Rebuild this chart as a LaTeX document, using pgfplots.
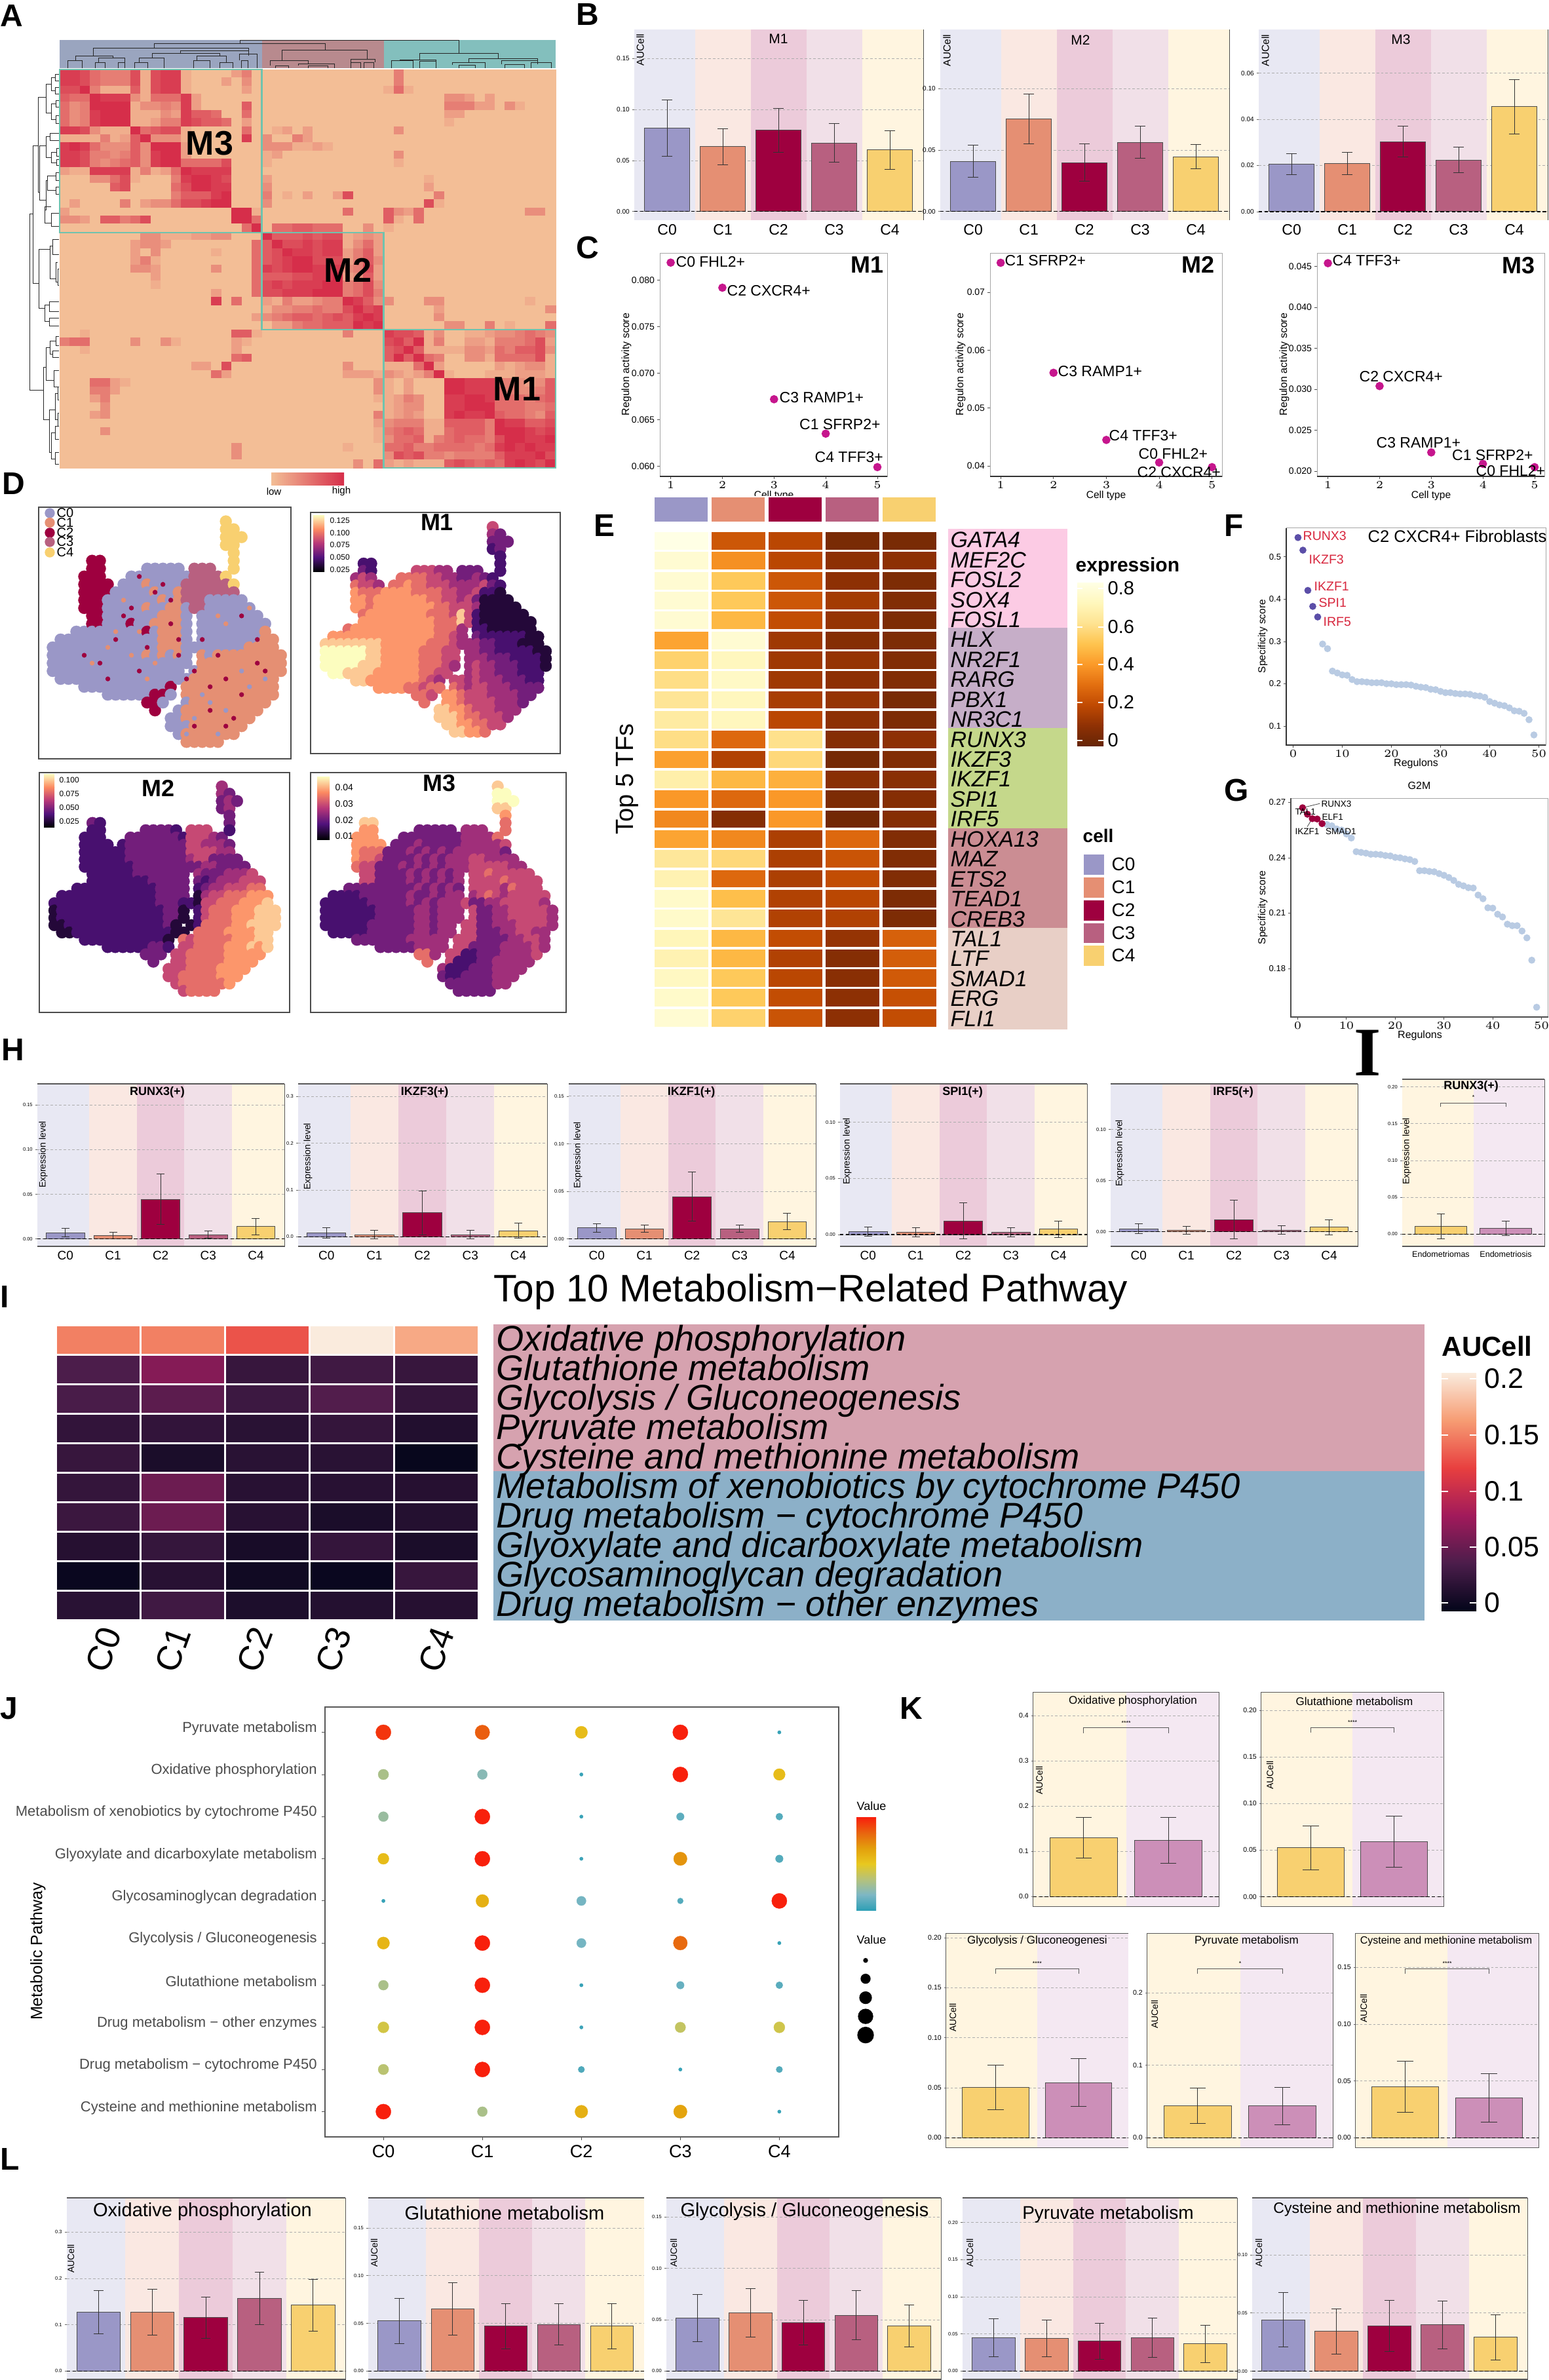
\documentclass[border=0pt]{standalone}
\usepackage{fontspec}
\setmainfont{Liberation Sans}
\newfontfamily\serifb{Liberation Serif}
\usepackage{pgfplots}
\usepackage{pgfplotstable}
\pgfplotsset{compat=1.18}
\definecolor{c0}{HTML}{9A97C7}\definecolor{c1}{HTML}{E58F73}\definecolor{c2}{HTML}{9E003F}
\definecolor{c3}{HTML}{B86080}\definecolor{c4}{HTML}{F8D070}\definecolor{k2}{HTML}{CC8FB8}
\definecolor{b0}{HTML}{E8E8F3}\definecolor{b1}{HTML}{FAE8E2}\definecolor{b2}{HTML}{ECCBDA}
\definecolor{b3}{HTML}{F1E0E8}\definecolor{b4}{HTML}{FFF5E0}\definecolor{b5}{HTML}{F4E8F2}
\definecolor{hlo}{HTML}{F3BE96}\definecolor{hhi}{HTML}{D62E4A}
\definecolor{yb0}{HTML}{662506}\definecolor{yb1}{HTML}{8F3104}\definecolor{yb2}{HTML}{C04A02}
\definecolor{yb3}{HTML}{E36F10}\definecolor{yb4}{HTML}{FB9A29}\definecolor{yb5}{HTML}{FEC44F}
\definecolor{yb6}{HTML}{FEE391}\definecolor{yb7}{HTML}{FFF7BC}\definecolor{yb8}{HTML}{FFFFE5}
\definecolor{rk0}{HTML}{03051A}\definecolor{rk1}{HTML}{4C1D4B}\definecolor{rk2}{HTML}{A11A5B}
\definecolor{rk3}{HTML}{E83F3F}\definecolor{rk4}{HTML}{F69C73}\definecolor{rk5}{HTML}{FAEBDD}
\definecolor{mg0}{HTML}{000004}\definecolor{mg1}{HTML}{51127C}\definecolor{mg2}{HTML}{B73779}
\definecolor{mg3}{HTML}{FC8961}\definecolor{mg4}{HTML}{FCFDBF}
\definecolor{jt0}{HTML}{2E9FB5}\definecolor{jt1}{HTML}{7DB7C4}\definecolor{jt2}{HTML}{B5C27A}
\definecolor{jt3}{HTML}{E8C81F}\definecolor{jt4}{HTML}{E3A00C}\definecolor{jt5}{HTML}{E8650F}\definecolor{jt6}{HTML}{F8200C}
\definecolor{tl}{HTML}{6FC3AE}
\pgfplotsset{
 colormap={hA}{color=(hlo) color=(hhi)},
 colormap={ylo}{color=(yb0) color=(yb1) color=(yb2) color=(yb3) color=(yb4) color=(yb5) color=(yb6) color=(yb7) color=(yb8)},
 colormap={rock}{color=(rk0) color=(rk1) color=(rk2) color=(rk3) color=(rk4) color=(rk5)},
 colormap={mag}{color=(mg0) color=(mg1) color=(mg2) color=(mg3) color=(mg4)},
 colormap={jet2}{color=(jt0) color=(jt1) color=(jt2) color=(jt3) color=(jt4) color=(jt5) color=(jt6)},
 colormap={cat}{color=(c0) color=(c1) color=(c2) color=(c3) color=(c4)},
 pan/.style n args={4}{scale only axis,anchor=north west,at={({#1*0.3pt},{-#2*0.3pt})},width={(#3-#1)*0.3pt},height={(#4-#2)*0.3pt}},
}
\newcommand\fz[1]{\pgfmathsetmacro\fzv{#1*0.3}\fontsize{\fzv pt}{\fzv pt}\selectfont}

% similarity matrix of panel A, 49 regulons (M3 | M2 | M1)
\pgfplotstableread[header=false]{
8 8 7 5 4 4 4 7 1 7 8 8 1 0 0 0 0 2 4 0  0 0 0 0 0 0 0 0 0 0 0 0  0 4 0 0 0 0 0 0 0 0 0 0 0 0 0 0 0
8 8 7 5 4 4 4 7 1 7 8 8 1 0 0 0 2 0 3 0  0 0 0 0 0 0 0 0 0 0 0 0  0 4 0 0 0 0 0 0 0 0 0 0 0 0 0 0 0
7 7 9 4 1 1 1 6 1 7 8 8 1 0 0 0 0 0 2 0  0 0 0 0 0 0 0 0 0 0 0 0  1 5 1 0 0 0 0 0 0 0 0 0 0 0 0 0 0
6 5 5 9 8 8 8 3 1 5 5 5 8 2 0 0 0 0 0 0  0 0 0 0 0 0 0 0 0 0 0 0  0 0 0 0 0 0 3 3 2 0 2 0 0 0 0 0 0
5 3 4 9 9 9 9 1 3 3 4 3 8 2 0 0 0 0 6 0  0 0 0 0 0 0 0 0 0 0 0 0  0 0 0 0 0 0 4 4 4 2 2 0 3 1 0 0 0
5 3 4 8 9 9 9 1 1 1 3 2 8 6 6 5 0 0 5 0  0 0 0 0 0 0 0 0 0 0 0 0  0 0 0 0 0 0 2 2 0 0 0 0 0 0 0 0 0
5 3 4 8 9 9 9 1 1 2 4 4 8 7 6 6 5 0 2 0  0 0 0 0 0 0 0 0 0 0 0 0  0 0 0 0 0 0 1 0 0 0 0 0 0 0 0 0 0
8 8 7 3 1 1 1 9 5 6 7 7 1 0 0 0 0 0 5 0  0 1 2 0 2 0 0 0 0 0 0 0  0 3 0 0 0 0 0 0 0 0 0 0 0 0 0 0 0
1 1 1 1 4 1 2 6 9 3 3 3 1 0 0 0 0 0 8 0  3 0 0 4 2 0 0 0 0 0 0 0  0 0 0 0 0 0 0 0 0 0 0 0 0 0 0 0 0
8 9 8 5 3 3 3 6 3 9 9 9 2 0 0 0 0 0 0 0  3 3 3 1 1 2 1 0 0 0 0 0  0 0 0 0 0 0 0 0 0 0 0 0 0 0 0 0 0
8 8 7 4 4 3 4 6 3 8 9 9 2 0 0 0 0 0 0 0  1 2 0 0 0 0 0 0 0 0 0 0  0 3 0 0 0 0 0 0 0 0 0 0 0 0 0 0 0
8 8 7 4 3 4 5 6 3 8 9 9 5 5 5 5 7 0 0 0  1 0 0 0 0 0 0 0 0 0 0 0  0 1 0 0 0 0 0 0 0 0 0 0 0 0 0 0 0
2 1 1 8 8 8 8 1 4 1 2 5 9 8 8 8 8 0 0 0  0 0 0 0 0 0 0 0 0 0 0 0  0 0 0 0 0 0 0 0 0 0 0 0 0 0 0 0 0
0 0 0 3 3 5 7 1 0 0 0 4 8 9 9 8 7 0 0 0  2 0 0 0 0 0 0 0 0 0 0 0  0 0 0 0 1 0 0 0 0 0 0 0 0 0 0 0 0
0 0 0 0 0 6 7 0 0 0 0 5 7 9 9 8 8 0 0 0  3 0 0 0 0 0 0 0 0 0 0 0  0 0 0 0 2 0 0 0 0 0 0 0 0 0 0 0 0
0 0 0 0 0 0 0 0 0 0 0 4 6 6 6 8 9 0 0 0  4 0 1 0 2 0 0 2 7 0 0 0  0 0 0 0 0 4 0 0 0 0 0 0 0 0 0 0 0
0 2 0 0 0 0 4 0 2 3 3 5 7 7 8 9 9 0 0 0  3 0 0 0 0 0 0 0 0 0 0 0  0 0 0 0 7 1 0 0 0 0 0 0 0 0 0 0 0
2 0 0 0 0 0 0 0 0 0 0 0 0 0 0 0 0 9 9 1  0 0 0 0 0 0 0 0 5 0 0 0  6 3 2 5 0 0 0 0 0 0 0 0 0 0 3 3 0
3 3 2 0 6 6 4 5 7 0 0 0 0 0 0 0 0 9 9 5  0 0 0 0 0 0 0 0 0 0 0 0  6 1 0 5 0 0 0 0 0 0 0 0 0 0 0 0 0
0 0 0 0 0 0 0 0 0 0 0 0 0 0 0 0 0 0 5 9  0 5 5 6 6 5 5 5 0 0 3 0  1 0 0 0 0 0 0 0 0 0 0 0 0 0 0 0 0
0 0 0 0 0 0 0 0 3 3 1 1 1 2 2 3 3 0 0 0  9 6 6 6 7 6 7 7 1 2 3 2  0 0 0 0 0 0 0 0 0 0 0 0 0 0 0 0 0
0 0 0 0 0 0 0 2 3 3 2 0 0 0 0 0 0 0 0 5  6 9 7 7 8 7 8 8 1 3 5 2  0 0 0 0 0 0 0 0 0 0 0 0 0 0 0 0 0
0 0 0 0 0 0 0 2 0 3 0 0 0 0 0 1 0 0 0 5  6 7 9 8 8 7 8 8 2 4 6 2  0 0 0 0 0 0 0 0 0 0 0 0 0 0 0 0 0
0 0 0 0 0 0 0 2 4 1 0 0 0 0 0 0 0 0 0 5  6 7 8 9 9 7 7 7 2 4 6 3  0 0 0 0 0 0 0 0 0 0 0 0 0 0 0 0 0
0 0 0 0 0 0 0 3 3 2 0 0 0 0 0 3 0 0 0 5  8 7 8 9 9 8 8 8 3 4 7 2  0 0 0 0 0 0 0 0 0 0 0 0 0 0 0 0 0
0 0 0 0 0 0 0 0 0 2 0 0 0 0 0 0 0 0 0 5  6 6 6 7 7 8 8 9 2 3 6 2  0 0 0 0 0 0 0 0 0 0 0 0 0 0 0 0 0
0 0 0 0 0 0 0 0 0 1 0 0 0 0 0 0 0 0 0 5  7 8 7 8 8 8 9 9 4 5 7 3  0 0 0 0 0 0 0 0 0 0 0 0 0 0 0 0 0
0 0 0 0 0 0 0 0 0 0 0 0 0 0 0 2 0 0 0 5  7 7 8 8 8 9 9 9 4 5 7 4  0 0 0 0 0 0 0 0 0 0 0 0 0 0 0 0 0
0 0 0 0 0 0 0 0 0 0 0 0 0 0 0 8 0 5 0 0  2 1 4 2 2 3 4 4 9 8 6 3  3 0 0 0 3 3 0 0 0 0 0 0 0 0 1 0 0
0 0 0 0 0 0 0 0 0 0 0 0 0 0 0 0 0 0 0 0  1 3 3 4 4 5 4 4 7 9 7 8  0 0 0 0 0 2 0 0 0 0 0 0 0 0 0 0 3
0 0 0 0 0 0 0 0 0 0 0 0 0 0 0 0 0 0 0 2  3 4 5 6 6 5 6 7 6 8 9 8  0 0 0 0 0 3 0 0 0 0 0 0 0 0 0 0 0
0 0 0 0 0 0 0 0 0 0 0 0 0 0 0 0 0 0 0 0  0 2 2 4 5 5 6 6 6 9 8 9  0 0 0 0 0 0 3 3 0 0 4 0 1 0 0 0 5
0 0 1 0 0 0 0 0 0 0 0 0 0 0 0 0 0 6 6 1  0 0 0 0 0 0 0 0 4 0 0 0  8 7 7 6 1 3 0 0 1 1 2 3 3 4 5 4 3
4 5 5 0 0 0 0 3 0 0 3 1 0 0 0 0 0 2 1 0  0 0 0 0 0 0 0 0 0 0 0 0  7 8 6 9 1 4 0 0 2 2 1 4 4 4 5 7 2
0 0 1 0 0 0 0 0 0 0 0 0 0 0 0 0 0 2 0 0  0 0 0 0 0 0 0 0 0 0 0 0  6 7 9 6 1 1 1 1 3 3 2 5 4 6 6 7 3
0 0 0 0 0 0 0 0 0 0 0 0 0 0 0 0 0 5 6 0  0 0 0 0 0 0 0 0 0 0 0 0  6 9 6 9 5 4 0 0 3 3 1 5 5 5 5 7 1
0 0 0 0 0 0 0 0 0 0 0 0 0 2 2 0 7 0 0 0  0 0 0 0 0 0 0 0 3 0 0 0  1 1 1 5 9 2 0 0 0 0 0 2 1 2 3 3 1
0 0 0 0 0 0 0 0 0 0 0 0 0 0 0 5 2 0 0 0  0 0 0 0 0 0 0 0 2 2 2 1  3 2 1 2 4 9 1 0 0 0 1 1 1 2 2 2 1
0 0 0 5 5 2 1 0 0 0 0 0 0 0 0 0 0 0 0 0  0 0 0 0 0 0 0 0 0 0 0 3  1 0 2 0 0 0 9 9 8 8 8 4 4 3 2 3 6
0 0 0 4 4 2 0 0 0 0 0 0 0 0 0 0 0 0 0 0  0 0 0 0 0 0 0 0 0 0 0 3  1 0 2 0 0 0 9 9 8 8 8 5 4 3 3 4 6
0 0 0 2 4 0 0 0 0 0 0 0 0 0 0 0 0 0 0 0  0 0 0 0 0 0 0 0 0 0 0 1  1 2 4 3 0 0 8 8 9 9 8 5 5 5 4 5 6
0 0 0 0 3 0 0 0 0 0 0 0 0 0 0 0 0 0 0 0  0 0 0 0 0 0 0 0 0 0 0 0  1 2 3 3 0 0 8 8 9 9 9 5 5 5 4 4 5
0 0 0 2 3 0 0 0 0 0 0 0 0 0 0 0 0 0 0 0  0 0 0 0 0 0 0 0 0 0 0 4  1 2 3 2 0 0 8 9 8 8 9 6 5 5 4 3 6
0 0 0 0 0 0 0 0 0 0 0 0 0 0 0 0 0 0 0 0  0 0 0 0 0 0 0 0 0 0 0 2  3 4 4 4 1 1 6 6 6 6 4 9 8 8 6 6 7
0 0 0 0 3 0 0 0 0 0 0 0 0 0 0 0 0 0 0 0  0 0 0 0 0 0 0 0 0 0 0 1  4 5 6 5 1 1 5 6 6 6 4 9 9 9 8 7 8
0 0 0 0 0 0 0 0 0 0 0 0 0 0 0 0 0 0 0 0  0 0 0 0 0 0 0 0 0 0 0 1  3 5 5 6 1 4 5 6 5 5 4 7 9 9 8 8 9
0 0 0 0 0 0 0 0 0 0 0 0 0 0 0 0 0 3 0 0  0 0 0 0 0 0 0 0 1 0 0 0  5 5 6 4 4 5 5 5 5 4 5 8 9 8 9 8 8
0 0 0 0 0 0 0 0 0 0 0 0 0 0 0 0 0 3 0 0  0 0 0 0 0 0 0 0 0 0 0 0  3 7 6 7 4 4 3 4 4 4 4 6 8 8 8 9 7
0 0 0 0 0 0 0 0 0 0 0 0 0 0 0 0 0 0 0 0  0 0 0 0 0 0 0 0 0 3 0 5  2 1 2 1 1 1 6 7 6 5 6 5 8 9 8 7 9
}\tabA

% TF expression, panel E
\pgfplotstableread[header=false]{
.85 .25 .20 .05 .05
.80 .40 .20 .10 .10
.80 .55 .25 .10 .06
.80 .55 .25 .15 .07
.80 .50 .22 .12 .06
.45 .80 .14 .08 .06
.58 .75 .14 .12 .07
.62 .77 .14 .10 .07
.65 .75 .16 .12 .05
.68 .75 .20 .10 .06
.62 .30 .63 .08 .10
.44 .18 .60 .04 .07
.70 .50 .48 .09 .09
.42 .30 .42 .06 .08
.38 .08 .42 .03 .08
.45 .38 .17 .30 .07
.66 .60 .17 .24 .07
.72 .30 .17 .22 .07
.78 .52 .18 .20 .06
.78 .65 .18 .18 .06
.74 .50 .22 .12 .28
.72 .50 .18 .08 .27
.76 .55 .20 .09 .26
.78 .55 .22 .10 .23
.80 .58 .24 .10 .22
}\tabE

% metabolism AUCell, panel I
\pgfplotstableread[header=false]{
.155 .155 .135 .21 .175
.042 .070 .030 .035 .030
.040 .050 .033 .045 .028
.027 .027 .022 .028 .018
.030 .014 .022 .022 .003
.028 .058 .021 .021 .020
.032 .058 .021 .014 .019
.020 .029 .012 .028 .014
.004 .021 .008 .004 .030
.022 .035 .015 .019 .020
}\tabI

% UMAPs of panel D on a coarse grid, 0 = no cells
\pgfplotstableread[header=false]{
0 0 0 0 0 0 0 0 0 0 0 0 0 0 0 0 0 0 0 0 0 0 5 0 0 0 0 0 0 0
0 0 0 0 0 0 0 0 0 0 0 0 0 0 0 0 0 0 0 0 0 0 5 5 0 0 0 0 0 0
0 0 0 0 0 0 0 0 0 0 0 0 0 0 0 0 0 0 0 0 0 0 5 5 5 0 0 0 0 0
0 0 0 0 0 0 0 0 0 0 0 0 0 0 0 0 0 0 0 0 0 0 5 5 0 0 0 0 0 0
0 0 0 0 0 0 0 0 0 0 0 0 0 0 0 0 0 0 0 0 0 0 0 5 0 0 0 0 0 0
0 0 0 0 0 3 3 0 0 0 0 0 0 0 0 0 0 0 0 0 0 0 0 5 0 0 0 0 0 0
0 0 0 0 0 3 3 0 0 0 0 0 1 1 1 1 1 0 4 4 4 0 0 5 0 0 0 0 0 0
0 0 0 0 3 3 3 0 0 0 1 1 1 1 1 1 1 1 4 4 4 4 5 0 0 0 0 0 0 0
0 0 0 0 3 3 3 3 0 1 1 1 2 1 1 1 1 4 4 4 4 4 4 5 0 0 0 0 0 0
0 0 0 0 3 3 3 3 1 1 1 1 1 2 1 1 2 4 4 4 4 4 4 4 0 0 0 0 0 0
0 0 0 0 3 3 3 1 1 1 1 1 1 1 2 1 2 4 4 4 1 1 1 1 1 0 0 0 0 0
0 0 0 0 3 3 3 1 1 1 1 1 2 1 1 2 2 1 4 4 1 1 1 1 1 1 0 0 0 0
0 0 0 0 0 3 3 1 1 1 1 1 1 1 2 2 2 1 0 1 1 1 1 1 1 1 1 0 0 0
0 0 0 0 0 3 3 1 1 1 3 1 1 2 2 2 2 1 0 1 1 1 1 1 1 1 1 1 0 0
0 0 0 1 1 1 1 1 1 1 1 1 3 1 2 2 2 1 0 1 1 1 1 1 1 1 1 2 0 0
0 1 1 1 1 1 1 1 1 1 1 1 1 1 2 2 2 1 0 1 1 1 1 1 1 1 1 2 2 0
1 1 1 1 1 1 1 1 1 1 1 1 1 1 2 2 2 1 1 1 1 1 1 1 1 2 2 2 2 0
1 1 1 1 1 1 1 1 1 1 1 1 2 1 2 1 2 1 0 2 1 2 2 2 2 2 2 2 2 2
1 1 1 1 1 1 1 1 1 1 1 1 1 1 1 1 1 1 0 2 2 2 2 2 2 2 2 2 2 2
1 1 1 1 1 1 1 1 1 1 1 1 1 1 1 1 1 0 1 2 2 2 2 2 2 2 2 2 2 2
0 1 1 1 1 1 1 1 1 1 1 1 1 1 1 1 1 1 2 2 2 2 2 2 2 2 2 2 2 0
0 0 0 0 1 1 1 1 1 1 1 1 1 1 1 3 0 2 2 2 2 2 2 2 2 2 2 2 2 0
0 0 0 0 0 0 0 1 1 1 1 1 1 3 3 1 0 2 2 2 2 2 2 2 2 2 2 2 2 0
0 0 0 0 0 0 0 0 0 0 0 0 3 3 1 0 0 1 2 2 2 2 2 2 2 2 2 2 0 0
0 0 0 0 0 0 0 0 0 0 0 0 0 3 0 0 1 2 2 2 2 2 2 2 2 2 2 0 0 0
0 0 0 0 0 0 0 0 0 0 0 0 0 0 0 1 1 2 2 2 2 2 2 2 2 2 0 0 0 0
0 0 0 0 0 0 0 0 0 0 0 0 0 0 0 1 1 1 2 2 2 2 2 2 2 0 0 0 0 0
0 0 0 0 0 0 0 0 0 0 0 0 0 0 0 0 1 2 2 2 2 2 2 2 0 0 0 0 0 0
0 0 0 0 0 0 0 0 0 0 0 0 0 0 0 0 0 2 2 2 2 2 0 0 0 0 0 0 0 0
}\tabDa
\pgfplotstableread[header=false]{
0 0 0 0 0 0 0 0 0 0 0 0 0 0 0 0 0 0 0 0 0 0 5 0 0 0 0 0 0 0
0 0 0 0 0 0 0 0 0 0 0 0 0 0 0 0 0 0 0 0 0 0 4 3 0 0 0 0 0 0
0 0 0 0 0 0 0 0 0 0 0 0 0 0 0 0 0 0 0 0 0 0 3 3 3 0 0 0 0 0
0 0 0 0 0 0 0 0 0 0 0 0 0 0 0 0 0 0 0 0 0 0 2 3 0 0 0 0 0 0
0 0 0 0 0 0 0 0 0 0 0 0 0 0 0 0 0 0 0 0 0 0 0 2 0 0 0 0 0 0
0 0 0 0 0 2 2 0 0 0 0 0 0 0 0 0 0 0 0 0 0 0 0 2 0 0 0 0 0 0
0 0 0 0 0 3 2 0 0 0 0 0 5 5 5 4 4 0 3 3 3 0 0 2 0 0 0 0 0 0
0 0 0 0 4 5 4 0 0 0 6 6 6 6 5 5 4 4 3 3 4 3 2 0 0 0 0 0 0 0
0 0 0 0 6 5 5 4 0 6 6 7 6 6 5 5 5 4 4 4 4 5 3 2 0 0 0 0 0 0
0 0 0 0 7 6 6 6 7 7 7 7 6 6 6 6 5 5 4 4 5 2 2 1 0 0 0 0 0 0
0 0 0 0 7 7 6 7 7 7 7 7 7 7 6 6 5 5 4 5 3 1 1 1 1 0 0 0 0 0
0 0 0 0 7 7 6 7 7 7 7 7 7 7 7 6 6 5 5 5 4 1 1 1 1 1 0 0 0 0
0 0 0 0 0 6 7 7 7 7 7 7 7 7 6 6 6 5 8 5 2 1 1 1 1 1 1 0 0 0
0 0 0 0 0 7 7 7 7 7 7 7 7 7 7 6 6 6 8 5 2 1 1 1 1 1 1 1 0 0
0 0 0 6 7 7 7 7 7 7 7 7 7 7 7 6 6 6 4 0 2 2 1 1 1 1 1 1 0 0
0 7 7 7 7 7 7 7 7 7 7 7 7 7 7 6 6 5 4 0 3 2 2 2 2 2 2 1 1 0
8 8 8 8 8 8 8 8 7 7 7 7 7 7 6 6 6 5 4 4 4 3 3 2 2 2 1 1 1 0
9 9 9 9 9 9 8 8 7 7 7 7 7 6 6 6 5 5 0 4 4 3 3 2 2 2 2 2 1 1
9 9 9 9 9 9 8 8 7 7 7 7 7 6 6 6 5 5 0 4 4 4 3 3 3 2 2 2 2 1
9 9 9 9 9 8 8 8 7 7 7 7 7 6 6 6 5 4 0 4 5 4 4 3 3 3 2 2 2 1
0 9 9 8 8 8 8 7 7 7 7 7 7 6 6 5 5 0 0 4 5 4 4 3 3 3 2 2 2 0
0 0 0 0 8 8 7 7 7 7 7 7 7 6 5 4 0 5 5 4 5 4 4 4 3 3 3 2 2 0
0 0 0 0 0 0 0 7 7 7 7 6 6 5 6 6 0 6 5 4 5 5 4 4 4 3 3 3 3 0
0 0 0 0 0 0 0 0 0 0 0 0 6 6 5 0 7 7 6 5 5 5 4 4 4 4 3 3 0 0
0 0 0 0 0 0 0 0 0 0 0 0 0 6 0 0 7 7 6 5 5 5 5 4 4 4 3 0 0 0
0 0 0 0 0 0 0 0 0 0 0 0 0 0 0 8 8 7 7 6 5 5 5 4 4 4 0 0 0 0
0 0 0 0 0 0 0 0 0 0 0 0 0 0 0 8 8 8 7 6 6 5 5 5 4 0 0 0 0 0
0 0 0 0 0 0 0 0 0 0 0 0 0 0 0 0 8 8 7 7 6 6 5 5 0 0 0 0 0 0
0 0 0 0 0 0 0 0 0 0 0 0 0 0 0 0 0 8 8 7 7 6 0 0 0 0 0 0 0 0
}\tabDb
\pgfplotstableread[header=false]{
0 0 0 0 0 0 0 0 0 0 0 0 0 0 0 0 0 0 0 0 0 0 4 0 0 0 0 0 0 0
0 0 0 0 0 0 0 0 0 0 0 0 0 0 0 0 0 0 0 0 0 0 4 3 0 0 0 0 0 0
0 0 0 0 0 0 0 0 0 0 0 0 0 0 0 0 0 0 0 0 0 0 3 4 3 0 0 0 0 0
0 0 0 0 0 0 0 0 0 0 0 0 0 0 0 0 0 0 0 0 0 0 3 4 0 0 0 0 0 0
0 0 0 0 0 0 0 0 0 0 0 0 0 0 0 0 0 0 0 0 0 0 0 3 0 0 0 0 0 0
0 0 0 0 0 3 2 0 0 0 0 0 0 0 0 0 0 0 0 0 0 0 0 3 0 0 0 0 0 0
0 0 0 0 0 2 2 0 0 0 0 0 3 3 3 3 2 0 5 5 5 0 0 2 0 0 0 0 0 0
0 0 0 0 2 2 2 0 0 0 3 3 3 3 3 3 3 2 5 5 5 4 3 0 0 0 0 0 0 0
0 0 0 0 2 2 2 2 0 2 3 3 3 3 3 3 3 3 5 5 4 4 4 3 0 0 0 0 0 0
0 0 0 0 2 2 2 2 2 2 3 3 3 3 3 3 3 3 5 5 5 5 4 4 0 0 0 0 0 0
0 0 0 0 2 2 2 2 2 2 3 3 3 3 3 3 3 3 4 5 5 3 3 3 3 0 0 0 0 0
0 0 0 0 2 2 2 2 2 2 2 3 3 3 3 3 3 3 3 3 4 4 3 3 3 3 0 0 0 0
0 0 0 0 0 2 2 2 2 2 2 3 3 3 3 3 3 3 0 4 3 3 3 4 4 4 5 0 0 0
0 0 0 0 0 2 2 2 2 2 2 2 2 3 3 3 3 3 0 3 2 3 4 4 4 5 5 5 0 0
0 0 0 2 2 2 2 2 2 2 2 2 2 2 3 3 3 3 0 2 3 4 4 5 5 5 6 6 0 0
0 2 2 2 2 2 2 2 2 2 2 2 2 2 3 3 3 3 0 1 4 5 5 6 6 6 7 7 7 0
2 2 2 2 2 2 2 2 2 2 2 2 2 2 3 3 3 2 2 1 5 5 6 6 6 7 7 7 8 0
1 2 2 2 2 2 2 2 2 2 2 2 2 2 2 3 3 1 0 2 5 6 6 6 7 7 7 8 8 8
1 2 2 2 2 2 2 2 2 2 2 2 2 2 2 3 3 1 0 2 5 6 6 6 7 7 7 8 8 8
1 1 2 2 2 2 2 2 2 2 2 2 2 2 2 3 1 0 1 2 6 6 6 6 7 7 8 8 8 8
0 1 1 2 2 2 2 2 2 2 2 2 2 2 2 2 1 1 0 6 6 6 6 7 7 7 7 8 8 0
0 0 0 0 2 2 2 2 2 2 2 2 2 2 2 1 0 6 5 6 6 6 6 6 7 7 7 8 8 0
0 0 0 0 0 0 0 2 2 2 2 2 2 3 3 2 0 5 5 6 6 6 6 7 7 7 8 7 8 0
0 0 0 0 0 0 0 0 0 0 0 0 3 3 3 0 5 5 6 6 6 6 6 7 7 7 7 7 0 0
0 0 0 0 0 0 0 0 0 0 0 0 0 3 0 0 5 5 6 6 6 6 6 7 7 7 7 0 0 0
0 0 0 0 0 0 0 0 0 0 0 0 0 0 0 5 5 5 6 6 6 6 7 7 7 7 0 0 0 0
0 0 0 0 0 0 0 0 0 0 0 0 0 0 0 5 5 6 6 6 6 6 7 7 7 0 0 0 0 0
0 0 0 0 0 0 0 0 0 0 0 0 0 0 0 0 5 6 6 6 6 6 6 7 0 0 0 0 0 0
0 0 0 0 0 0 0 0 0 0 0 0 0 0 0 0 0 5 6 6 6 6 0 0 0 0 0 0 0 0
}\tabDc
\pgfplotstableread[header=false]{
0 0 0 0 0 0 0 0 0 0 0 0 0 0 0 0 0 0 0 0 0 0 8 0 0 0 0 0 0 0
0 0 0 0 0 0 0 0 0 0 0 0 0 0 0 0 0 0 0 0 0 0 9 9 0 0 0 0 0 0
0 0 0 0 0 0 0 0 0 0 0 0 0 0 0 0 0 0 0 0 0 0 9 9 9 0 0 0 0 0
0 0 0 0 0 0 0 0 0 0 0 0 0 0 0 0 0 0 0 0 0 0 8 8 0 0 0 0 0 0
0 0 0 0 0 0 0 0 0 0 0 0 0 0 0 0 0 0 0 0 0 0 0 7 0 0 0 0 0 0
0 0 0 0 0 8 8 0 0 0 0 0 0 0 0 0 0 0 0 0 0 0 0 6 0 0 0 0 0 0
0 0 0 0 0 7 7 0 0 0 0 0 3 3 3 3 3 0 4 4 4 0 0 6 0 0 0 0 0 0
0 0 0 0 7 7 7 0 0 0 3 3 3 3 3 3 3 3 4 4 4 4 6 0 0 0 0 0 0 0
0 0 0 0 7 7 7 7 0 3 3 3 4 3 3 3 3 3 4 4 4 4 4 5 0 0 0 0 0 0
0 0 0 0 7 6 6 6 3 3 3 4 3 4 3 4 3 4 4 4 4 4 4 3 0 0 0 0 0 0
0 0 0 0 7 6 6 5 3 3 3 3 4 3 4 3 4 4 4 5 5 4 4 4 4 0 0 0 0 0
0 0 0 0 6 5 5 3 3 3 4 3 4 3 4 3 4 4 4 5 5 5 5 5 4 4 0 0 0 0
0 0 0 0 0 5 5 3 3 3 3 4 3 4 3 4 3 4 0 5 5 6 5 5 5 5 5 0 0 0
0 0 0 0 0 5 5 3 3 3 3 4 3 4 3 4 3 4 0 5 5 5 5 6 5 5 5 5 0 0
0 0 0 3 3 3 3 3 3 3 3 3 4 3 4 3 4 3 0 5 5 5 5 4 6 5 5 5 0 0
0 2 2 2 2 3 3 3 3 3 3 4 3 3 4 3 4 4 0 4 5 6 5 4 5 5 5 5 5 0
2 2 2 2 2 2 3 3 3 3 3 4 3 4 3 4 4 4 5 3 3 4 4 5 5 5 5 5 4 0
2 2 2 2 2 2 2 3 3 3 3 3 4 4 3 4 4 4 0 5 3 3 4 4 5 5 5 5 5 4
2 2 2 2 2 2 2 3 3 3 3 3 4 4 3 4 4 4 0 5 3 3 4 4 5 5 5 5 5 4
2 2 2 2 2 2 3 3 3 3 3 3 4 4 3 4 4 0 5 5 3 3 4 4 4 5 5 5 5 4
0 2 2 2 2 2 3 3 3 3 3 3 4 4 3 4 4 0 5 5 3 3 3 4 4 5 5 4 4 0
0 0 0 0 3 3 3 3 3 3 3 4 4 4 4 4 0 5 5 5 3 3 3 3 4 4 5 5 4 0
0 0 0 0 0 0 0 3 3 3 3 3 4 4 4 4 0 5 5 3 3 3 3 4 4 4 4 5 4 0
0 0 0 0 0 0 0 0 0 0 0 0 6 6 4 0 5 5 2 2 3 3 3 4 4 4 4 5 0 0
0 0 0 0 0 0 0 0 0 0 0 0 0 6 0 0 5 2 2 2 3 3 4 4 4 4 4 0 0 0
0 0 0 0 0 0 0 0 0 0 0 0 0 0 0 4 2 2 2 3 3 3 4 4 4 4 0 0 0 0
0 0 0 0 0 0 0 0 0 0 0 0 0 0 0 3 2 2 3 3 3 3 4 4 4 0 0 0 0 0
0 0 0 0 0 0 0 0 0 0 0 0 0 0 0 0 3 3 3 3 3 3 4 4 0 0 0 0 0 0
0 0 0 0 0 0 0 0 0 0 0 0 0 0 0 0 0 3 3 3 3 3 0 0 0 0 0 0 0 0
}\tabDd

% helpers
\newcommand\HM[4]{\pgfplotsinvokeforeach{0,...,#2}{\addplot[scatter,only marks,mark=square*,mark size=#3,mark options={xscale=#4,line width=0.1pt},scatter/use mapped color={draw=mapped color,fill=mapped color},scatter src=explicit] table[x expr=##1,y expr=\coordindex,meta index=##1]{#1};}}
\newcommand\UM[1]{\pgfplotsinvokeforeach{0,...,29}{\addplot[scatter,only marks,mark=*,mark size=2.7pt,mark options={line width=0.1pt},scatter/use mapped color={draw=mapped color,fill=mapped color},scatter src=explicit,unbounded coords=discard] table[x expr=##1,y expr={\thisrowno{##1}>0 ? \coordindex : nan},meta index=##1]{#1};}}
\newcommand\BAND[3]{\fill[#3] (axis cs:#1,\ya) rectangle (axis cs:#2,\yb);}
\newcommand\setfive{\def\XA{-0.59}\def\XB{4.6}\def\BW{0.81}%
 \def\BANDS{\BAND{-0.59}{0.5}{b0}\BAND{0.5}{1.5}{b1}\BAND{1.5}{2.5}{b2}\BAND{2.5}{3.5}{b3}\BAND{3.5}{4.6}{b4}}%
 \pgfplotsset{curx/.style={xmin=-0.59,xmax=4.6,xtick={0,1,2,3,4},xticklabels={C0,C1,C2,C3,C4}}}}
\newcommand\setfiveN{\setfive\pgfplotsset{curx/.style={xmin=-0.59,xmax=4.6,xtick=\empty}}}
\newcommand\settwo{\def\XA{-0.595}\def\XB{1.595}\def\BW{0.8}%
 \def\BANDS{\BAND{-0.595}{0.5}{b4}\BAND{0.5}{1.595}{b5}}%
 \pgfplotsset{curx/.style={xmin=-0.595,xmax=1.595,xtick=\empty}}}
\newcommand\BR[4]{\addplot[ybar,bar shift=0pt,bar width=\BW,fill=#1,draw=black!70,line width=0.3pt,error bars/.cd,y dir=both,y explicit,error bar style={black!80,line width=0.25pt},error mark options={rotate=90,mark size=\EM,black!80,line width=0.25pt}] coordinates {(#2,#3) +- (0,#4)};}
\newcommand\BARS[9]{\def\ya{#5}\def\yb{#6}%
 \begin{axis}[pan={#1}{#2}{#3}{#4},curx,ymin=#5,ymax=#6,ytick={#7},clip=false,scaled y ticks=false,
  y tick label style={font=\YF,inner sep=1pt,/pgf/number format/.cd,fixed,fixed zerofill,precision=#8,assume math mode=true},
  x tick label style={font=\XF,inner sep=1pt},xtick pos=bottom,ytick pos=left,tick align=outside,
  major tick length=1pt,xtick style={draw=none},ytick style={black!60,line width=.2pt},axis line style={\ALC,line width=\ALW}]
  \BANDS
  \pgfplotsinvokeforeach{#7}{\draw[dash pattern=on 1.1pt off 0.9pt,gray!65,line width=0.25pt] (axis cs:\XA,##1) -- (axis cs:\XB,##1);}
  #9
  \draw[dash pattern=on 1.6pt off 1pt,black,line width=0.4pt] (axis cs:\XA,0) -- (axis cs:\XB,0);
  \TOPBOT
 \end{axis}}
\newcommand\BRK[4]{\addplot[gray!70!black,line width=0.3pt] coordinates {(0,#1)(0,#2)(1,#2)(1,#1)};\node[font=\fz{9}] at (axis cs:0.5,#3) {#4};}
\newcommand\T[5]{\node[anchor=#3,inner sep=0pt,font=\fz{#4}] at ({#1*0.3pt},{-#2*0.3pt}) {#5};}
\newcommand\TR[4]{\node[rotate=90,inner sep=0pt,font=\fz{#3}] at ({#1*0.3pt},{-#2*0.3pt}) {#4};}
\newcommand\LB[3]{\node[anchor=west,inner sep=0pt,font=\fz{48}\bfseries] at ({#1*0.3pt},{-#2*0.3pt}) {#3};}
\newcommand\BX[5]{\fill[#5] ({#1*0.3pt},{-#2*0.3pt}) rectangle ({#3*0.3pt},{-#4*0.3pt});}
\newcommand\CB[6]{\foreach \c [count=\i from 0, remember=\c as \p (initially white)] in {#5}{\ifnum\i>0 \shade[bottom color=\p,top color=\c] ({#1*0.3pt},{-(#4-(#4-#3)*(\i-1)/#6)*0.3pt}) rectangle ({#2*0.3pt},{-(#4-(#4-#3)*\i/#6)*0.3pt});\fi}}
\newcommand\DU[5]{\addplot[dg] coordinates {(#1,#4)(#1,#3)(#2,#3)(#2,#5)};}
\newcommand\DS[5]{\addplot[dg] coordinates {(#4,#2)(#1,#2)(#1,#3)(#5,#3)};}
\pgfplotsset{dg/.style={black!85,line width=0.25pt},
 scat/.style={clip=false,scaled y ticks=false,xtick pos=bottom,ytick pos=left,tick align=outside,major tick length=1.2pt,
  tick style={black!70,line width=.25pt},axis line style={gray!70,line width=0.3pt},
  x tick label style={font=\fz{13},inner sep=1pt},
  y tick label style={font=\fz{#1},inner sep=1pt,/pgf/number format/.cd,fixed,fixed zerofill,assume math mode=true}},
 scat/.default=14}

\begin{document}
\begin{tikzpicture}
\path[use as bounding box] (0,0) rectangle ({2363*0.3pt},{-3632*0.3pt});

% ---- A
\begin{axis}[pan={91}{106}{848}{714},hide axis,xmin=-0.5,xmax=48.5,ymin=-0.5,ymax=48.5,y dir=reverse,colormap name=hA,point meta min=0,point meta max=9]
\HM{\tabA}{48}{1.9pt}{1.235}
\end{axis}

% ---- B
\def\XF{\fz{23}}\def\YF{\fz{10}}\def\EM{2.5pt}\def\ALW{0.3pt}\def\ALC{black!70}\def\TOPBOT{}
\setfive
\BARS{968}{45}{1409}{335.5}{-0.0082}{0.1785}{0,0.05,0.1,0.15}{2}{\BR{c0}{0}{0.082}{0.0275}\BR{c1}{1}{0.0638}{0.0177}\BR{c2}{2}{0.0796}{0.0218}\BR{c3}{3}{0.0673}{0.0188}\BR{c4}{4}{0.0603}{0.0192}}
\BARS{1435}{45}{1876}{335.5}{-0.0068}{0.1483}{0,0.05,0.1}{2}{\BR{c0}{0}{0.0409}{0.013}\BR{c1}{1}{0.0753}{0.0202}\BR{c2}{2}{0.0399}{0.0154}\BR{c3}{3}{0.0564}{0.013}\BR{c4}{4}{0.0446}{0.0098}}
\BARS{1921}{45}{2362}{335.5}{-0.0036}{0.079}{0,0.02,0.04,0.06}{2}{\BR{c0}{0}{0.0206}{0.0046}\BR{c1}{1}{0.0208}{0.0048}\BR{c2}{2}{0.0303}{0.0067}\BR{c3}{3}{0.0224}{0.0055}\BR{c4}{4}{0.0455}{0.0118}}

% ---- C
\begin{axis}[pan={1007}{386}{1354}{727},scat,xmin=0.79,xmax=5.19,ymin=0.0589,ymax=0.08294,xtick={1,...,5},ytick={0.06,0.065,0.07,0.075,0.08},yticklabel style={/pgf/number format/precision=3}]
\addplot[only marks,mark=*,mark size=1.7pt,color={rgb,255:red,198;green,22;blue,141}] coordinates {(1,0.0819)(2,0.0792)(3,0.0672)(4,0.0635)(5,0.0599)};
\draw[black!80,line width=0.6pt] (axis cs:0.79,0.0589)--(axis cs:5.19,0.0589);
\end{axis}
\begin{axis}[pan={1511}{386}{1865}{727},scat,xmin=0.8,xmax=5.19,ymin=0.0382,ymax=0.0768,xtick={1,...,5},ytick={0.04,0.05,0.06,0.07},yticklabel style={/pgf/number format/precision=2}]
\addplot[only marks,mark=*,mark size=1.7pt,color={rgb,255:red,198;green,22;blue,141}] coordinates {(1,0.0751)(2,0.0561)(3,0.0445)(4,0.0406)(5,0.0398)};
\draw[black!80,line width=0.6pt] (axis cs:0.8,0.0382)--(axis cs:5.19,0.0382);
\end{axis}
\begin{axis}[pan={2010}{386}{2357}{727},scat,xmin=0.79,xmax=5.19,ymin=0.01937,ymax=0.04665,xtick={1,...,5},ytick={0.02,0.025,0.03,0.035,0.04,0.045},yticklabel style={/pgf/number format/precision=3}]
\addplot[only marks,mark=*,mark size=1.7pt,color={rgb,255:red,198;green,22;blue,141}] coordinates {(1,0.0454)(2,0.0304)(3,0.0223)(4,0.0209)(5,0.0205)};
\draw[black!80,line width=0.6pt] (axis cs:0.79,0.01937)--(axis cs:5.19,0.01937);
\end{axis}

% ---- D
\begin{axis}[pan={59}{774}{444}{1158},xmin=-1.79,xmax=30.27,ymin=-1.8,ymax=30.15,y dir=reverse,ticks=none,axis line style={black!70,line width=.4pt},colormap name=cat,point meta min=1,point meta max=5]
\UM{\tabDa}
\addplot[only marks,mark=*,mark size=0.9pt,c2] coordinates {(10,11)(13,9)(15,13)(19,15)(16,17)(22,20)(24,22)(26,18)(20,24)(18,26)(22,26)(8,15)(6,18)(11,19)(14,8)(24,12)(26,15)(16,15)(17,20)(12,16)(15,10)(9,12)(4,17)(27,19)(21,17)(23,25)(7,20)(11,7)(18,19)(20,21)};
\addplot[only marks,mark=*,mark size=0.9pt,c1] coordinates {(9,10)(11,14)(8,14)(5,18)(10,17)(13,18)(7,16)(12,20)(22,13)(25,11)(21,12)};
\addplot[only marks,mark=*,mark size=0.9pt,c0] coordinates {(20,23)(18,25)(25,21)(22,24)(27,20)(24,19)(17,27)(21,27)(19,22)};
\end{axis}
\begin{axis}[pan={474}{782}{855}{1150},xmin=-1.98,xmax=30.9,ymin=-2,ymax=31,y dir=reverse,ticks=none,axis line style={black!70,line width=.4pt},colormap name=mag,point meta min=0,point meta max=9]
\UM{\tabDb}
\end{axis}
\begin{axis}[pan={60}{1179}{442}{1545},xmin=-1.98,xmax=30.9,ymin=-1.9,ymax=30.96,y dir=reverse,ticks=none,axis line style={black!70,line width=.4pt},colormap name=mag,point meta min=0,point meta max=9]
\UM{\tabDc}
\end{axis}
\begin{axis}[pan={474}{1179}{864}{1545},xmin=-1.94,xmax=30.75,ymin=-1.9,ymax=30.96,y dir=reverse,ticks=none,axis line style={black!70,line width=.4pt},colormap name=mag,point meta min=0,point meta max=9]
\UM{\tabDd}
\end{axis}

% ---- E
\begin{axis}[pan={999}{810}{1428}{1568},hide axis,xmin=-0.465,xmax=4.465,ymin=-0.5,ymax=24.5,y dir=reverse,colormap name=ylo,point meta min=0,point meta max=0.85]
\HM{\tabE}{4}{3.87pt}{3.14}
\end{axis}

% ---- F
\begin{axis}[pan={1963}{805.5}{2359}{1137},scat=13,xmin=-1.39,xmax=51.4,ymin=0.055,ymax=0.5688,xtick={0,10,20,30,40,50},ytick={0.1,0.2,0.3,0.4,0.5},yticklabel style={/pgf/number format/precision=1}]
\addplot[only marks,mark=*,mark size=1.4pt,mark options={draw=none},color={rgb,255:red,185;green,203;blue,227}] coordinates {(6,0.294)(7,0.283)(8,0.23)(9,0.2255)(10,0.221)(11,0.22)(12,0.21)(13,0.205)(14,0.205)(15,0.204)(16,0.2025)(17,0.2025)(18,0.2025)(19,0.2)(20,0.2)(21,0.198)(22,0.198)(23,0.198)(24,0.197)(25,0.194)(26,0.192)(27,0.191)(28,0.187)(29,0.186)(30,0.182)(31,0.179)(32,0.179)(33,0.177)(34,0.176)(35,0.176)(36,0.175)(37,0.172)(38,0.171)(39,0.168)(40,0.158)(41,0.154)(42,0.15)(43,0.148)(44,0.143)(45,0.136)(46,0.135)(47,0.13)(48,0.115)(49,0.079)};
\addplot[only marks,mark=*,mark size=1.4pt,mark options={draw=none},color={rgb,255:red,91;green,78;blue,168}] coordinates {(1,0.5458)(2,0.516)(3,0.4208)(4,0.383)(5,0.358)};
\draw[black!80,line width=0.5pt] (axis cs:-1.39,0.5688)--(axis cs:-1.39,0.055)--(axis cs:51.4,0.055);
\end{axis}

% ---- G
\begin{axis}[pan={1970}{1218}{2362.6}{1552},scat=13,xmin=-1.4,xmax=51.35,ymin=0.1537,ymax=0.2723,xtick={0,10,20,30,40,50},ytick={0.18,0.21,0.24,0.27},yticklabel style={/pgf/number format/precision=2}]
\addplot[only marks,mark=*,mark size=1.4pt,mark options={draw=none},color={rgb,255:red,185;green,203;blue,227}] coordinates {(6,0.258)(7,0.2573)(8,0.2556)(9,0.255)(10,0.2529)(11,0.2507)(12,0.2433)(13,0.2429)(14,0.2425)(15,0.2419)(16,0.2419)(17,0.2417)(18,0.2412)(19,0.241)(20,0.2402)(21,0.24)(22,0.2394)(23,0.239)(24,0.238)(25,0.233)(26,0.233)(27,0.2326)(28,0.2324)(29,0.2314)(30,0.2305)(31,0.2293)(32,0.2277)(33,0.2256)(34,0.2248)(35,0.2238)(36,0.2236)(37,0.2198)(38,0.2178)(39,0.2129)(40,0.2127)(41,0.2094)(42,0.2079)(43,0.204)(44,0.2032)(45,0.2032)(46,0.2003)(47,0.1966)(48,0.1845)(49,0.159)};
\addplot[only marks,mark=*,mark size=1.4pt,mark options={draw=none},c2] coordinates {(1,0.2671)(2,0.2636)(3,0.2612)(4,0.261)(5,0.2585)};
\addplot[black!70,line width=.25pt] coordinates {(1,0.2671)(4.56,0.2694)};
\addplot[black!70,line width=.25pt] coordinates {(3,0.2612)(1.96,0.2568)};
\draw[gray!60!black,line width=0.5pt] (axis cs:-1.4,0.2723)--(axis cs:-1.4,0.1537)--(axis cs:51.35,0.1537);
\end{axis}

% ---- H
\def\XF{\fz{19}}\def\YF{\fz{7.5}}\def\EM{1.8pt}\def\ALW{0.25pt}\def\ALC{gray!70!black}
\def\TOPBOT{\draw[gray!70!black,line width=0.8pt] (axis cs:\XA,\yb)--(axis cs:\XB,\yb);\draw[gray!70!black,line width=0.8pt] (axis cs:\XA,\ya)--(axis cs:\XB,\ya);}
\setfive
\BARS{57}{1654}{434}{1902}{-0.0083}{0.1734}{0,0.05,0.1,0.15}{2}{\BR{c0}{0}{0.0071}{0.005}\BR{c1}{1}{0.0041}{0.0037}\BR{c2}{2}{0.0444}{0.0283}\BR{c3}{3}{0.0049}{0.0041}\BR{c4}{4}{0.0137}{0.0091}}
\BARS{455}{1654}{835}{1902}{-0.0205}{0.3271}{0,0.1,0.2,0.3}{1}{\BR{c0}{0}{0.0079}{0.011}\BR{c1}{1}{0.0047}{0.0087}\BR{c2}{2}{0.0513}{0.0467}\BR{c3}{3}{0.0047}{0.0093}\BR{c4}{4}{0.0131}{0.0163}}
\BARS{868}{1654}{1245}{1902}{-0.0078}{0.163}{0,0.05,0.1,0.15}{2}{\BR{c0}{0}{0.0115}{0.0046}\BR{c1}{1}{0.0108}{0.0039}\BR{c2}{2}{0.0445}{0.026}\BR{c3}{3}{0.0108}{0.004}\BR{c4}{4}{0.0183}{0.0086}}
\BARS{1282}{1654}{1659}{1902}{-0.0105}{0.1342}{0,0.05,0.1}{2}{\BR{c0}{0}{0.0029}{0.0041}\BR{c1}{1}{0.0021}{0.004}\BR{c2}{2}{0.0122}{0.016}\BR{c3}{3}{0.0021}{0.0042}\BR{c4}{4}{0.0049}{0.0072}}
\BARS{1695}{1654}{2072}{1902}{-0.0143}{0.1446}{0,0.05,0.1}{2}{\BR{c0}{0}{0.003}{0.005}\BR{c1}{1}{0.0017}{0.0038}\BR{c2}{2}{0.0119}{0.0188}\BR{c3}{3}{0.0017}{0.0041}\BR{c4}{4}{0.0043}{0.0075}}
\settwo
\pgfplotsset{curx/.append style={xtick={0,1},xticklabels={Endometriomas,Endometriosis}}}
\def\XF{\fz{12.5}}
\BARS{2140}{1647}{2357}{1902}{-0.0166}{0.2103}{0,0.05,0.1,0.15,0.2}{2}{\BR{c4}{0}{0.0107}{0.0168}\BR{k2}{1}{0.0077}{0.0098}\BRK{0.1732}{0.1781}{0.1862}{*}}

% ---- I
\begin{axis}[pan={87}{2024}{726}{2470},hide axis,xmin=-0.484,xmax=4.47,ymin=-0.455,ymax=9.455,y dir=reverse,colormap name=rock,point meta min=0,point meta max=0.21]
\HM{\tabI}{4}{6.15pt}{3.05}
\end{axis}

% ---- J
\begin{axis}[pan={496}{2605}{1280}{3261},xmin=-0.59,xmax=4.6,ymin=-0.6,ymax=9.6,y dir=reverse,clip=false,
 xtick={0,1,2,3,4},xticklabels={C0,C1,C2,C3,C4},ytick={0,...,9},
 yticklabels={Pyruvate metabolism,Oxidative phosphorylation,Metabolism of xenobiotics by cytochrome P450,Glyoxylate and dicarboxylate metabolism,Glycosaminoglycan degradation,Glycolysis / Gluconeogenesis,Glutathione metabolism,Drug metabolism − other enzymes,Drug metabolism − cytochrome P450,Cysteine and methionine metabolism},
 xtick pos=bottom,ytick pos=left,tick align=outside,major tick length=1.5pt,tick style={black!70,line width=.25pt},axis line style={gray!70!black,line width=.4pt},
 x tick label style={font=\fz{27},inner sep=2pt},y tick label style={font=\fz{22},text=black!70,inner sep=2pt,yshift=1.8pt},
 colormap name=jet2,point meta min=0,point meta max=1]
\addplot[scatter,only marks,mark=*,mark options={line width=0.1pt},scatter/use mapped color={draw=mapped color,fill=mapped color},scatter src=explicit,visualization depends on={\thisrow{w}*0.134 \as \ps},scatter/@pre marker code/.append style={/tikz/mark size=\ps}] table[x=x,y=y,meta=v] {
x y v w
0 0 0.95 26
1 0 0.85 25
2 0 0.55 21
3 0 1.00 26
4 0 0.02 6
0 1 0.30 18
1 1 0.20 17
2 1 0.02 6
3 1 1.00 26
4 1 0.55 20
0 2 0.25 17
1 2 1.00 26
2 2 0.02 6
3 2 0.10 13
4 2 0.08 12
0 3 0.55 19
1 3 1.00 26
2 3 0.03 6
3 3 0.70 23
4 3 0.08 13
0 4 0.02 6
1 4 0.60 22
2 4 0.15 16
3 4 0.08 10
4 4 1.00 26
0 5 0.58 21
1 5 1.00 26
2 5 0.15 16
3 5 0.82 24
4 5 0.02 6
0 6 0.30 17
1 6 1.00 26
2 6 0.02 6
3 6 0.12 13
4 6 0.09 12
0 7 0.43 19
1 7 1.00 26
2 7 0.03 6
3 7 0.38 18
4 7 0.42 19
0 8 0.35 18
1 8 1.00 26
2 8 0.07 11
3 8 0.02 6
4 8 0.08 11
0 9 1.00 26
1 9 0.30 17
2 9 0.60 22
3 9 0.65 23
4 9 0.02 6
};
\end{axis}

% ---- K
\def\YF{\fz{10.5}}\def\EM{3.7pt}\def\ALW{0.55pt}\def\ALC{gray!70!black}\def\TOPBOT{}
\settwo
\BARS{1577}{2583}{1860}{2909}{-0.0213}{0.4512}{0,0.1,0.2,0.3,0.4}{1}{\BR{c4}{0}{0.1302}{0.0455}\BR{k2}{1}{0.1249}{0.0508}\BRK{0.3621}{0.3734}{0.3847}{****}}
\BARS{1925}{2583}{2203}{2909}{-0.0103}{0.219}{0,0.05,0.1,0.15,0.2}{2}{\BR{c4}{0}{0.0526}{0.0235}\BR{k2}{1}{0.059}{0.0273}\BRK{0.1758}{0.1813}{0.187}{****}}
\BARS{1444}{2951}{1721.5}{3277}{-0.0096}{0.2039}{0,0.05,0.1,0.15,0.2}{2}{\BR{c4}{0}{0.0505}{0.0221}\BR{k2}{1}{0.055}{0.0239}\BRK{0.1637}{0.1688}{0.1742}{****}}
\BARS{1751}{2951}{2034}{3277}{-0.0133}{0.2812}{0,0.1,0.2}{1}{\BR{c4}{0}{0.0443}{0.0246}\BR{k2}{1}{0.0439}{0.0259}\BRK{0.2257}{0.2327}{0.2402}{*}}
\BARS{2069}{2951}{2348}{3277}{-0.0085}{0.1796}{0,0.05,0.1,0.15}{2}{\BR{c4}{0}{0.0447}{0.0225}\BR{k2}{1}{0.0352}{0.0214}\BRK{0.1442}{0.1487}{0.1534}{****}}

% ---- L
\def\YF{\fz{7.5}}\def\EM{2.2pt}\def\ALW{0.25pt}
\def\TOPBOT{\draw[gray!70!black,line width=0.8pt] (axis cs:\XA,\yb)--(axis cs:\XB,\yb);\draw[gray!70!black,line width=0.8pt] (axis cs:\XA,\ya)--(axis cs:\XB,\ya);}
\setfiveN
\BARS{102}{3354}{527}{3631}{-0.0179}{0.374}{0,0.1,0.2,0.3}{1}{\BR{c0}{0}{0.1274}{0.0465}\BR{c1}{1}{0.1274}{0.0493}\BR{c2}{2}{0.1156}{0.0443}\BR{c3}{3}{0.1571}{0.0564}\BR{c4}{4}{0.1425}{0.0561}}
\BARS{562}{3354}{982.5}{3631}{-0.0087}{0.1816}{0,0.05,0.1,0.15}{2}{\BR{c0}{0}{0.0527}{0.0238}\BR{c1}{1}{0.0653}{0.0272}\BR{c2}{2}{0.047}{0.024}\BR{c3}{3}{0.049}{0.0214}\BR{c4}{4}{0.047}{0.0235}}
\BARS{1017}{3354}{1436}{3631}{-0.0081}{0.1687}{0,0.05,0.1,0.15}{2}{\BR{c0}{0}{0.0515}{0.023}\BR{c1}{1}{0.0568}{0.0234}\BR{c2}{2}{0.0472}{0.0218}\BR{c3}{3}{0.0543}{0.0239}\BR{c4}{4}{0.044}{0.0203}}
\BARS{1469}{3354}{1888}{3631}{-0.0112}{0.2332}{0,0.05,0.1,0.15,0.2}{2}{\BR{c0}{0}{0.0447}{0.0254}\BR{c1}{1}{0.0441}{0.0247}\BR{c2}{2}{0.0403}{0.0241}\BR{c3}{3}{0.045}{0.0262}\BR{c4}{4}{0.0365}{0.0253}}
\BARS{1911}{3354}{2331}{3631}{-0.0071}{0.149}{0,0.05,0.1}{2}{\BR{c0}{0}{0.0442}{0.0236}\BR{c1}{1}{0.0342}{0.0196}\BR{c2}{2}{0.0389}{0.022}\BR{c3}{3}{0.0397}{0.0207}\BR{c4}{4}{0.0291}{0.0195}}

% ---- blocks, strips, colour bars
\fill[fill={rgb,255:red,154;green,165;blue,191}] ({91*0.3pt},{-61*0.3pt}) rectangle ({399.5*0.3pt},{-104*0.3pt});
\fill[fill={rgb,255:red,184;green,138;blue,142}] ({399.5*0.3pt},{-61*0.3pt}) rectangle ({585.5*0.3pt},{-104*0.3pt});
\fill[fill={rgb,255:red,131;green,191;blue,189}] ({585.5*0.3pt},{-61*0.3pt}) rectangle ({848*0.3pt},{-104*0.3pt});
\draw[tl,line width=0.75pt] ({91*0.3pt},{-106*0.3pt}) rectangle ({399.5*0.3pt},{-355*0.3pt});
\draw[tl,line width=0.75pt] ({399.5*0.3pt},{-355*0.3pt}) rectangle ({585.5*0.3pt},{-503*0.3pt});
\draw[tl,line width=0.75pt] ({585.5*0.3pt},{-503*0.3pt}) rectangle ({848*0.3pt},{-714*0.3pt});
\shade[left color=hlo,right color=hhi] ({414*0.3pt},{-721*0.3pt}) rectangle ({525*0.3pt},{-740*0.3pt});
\T{1181}{756}{center}{15.5}{Cell type}
\BX{990}{757}{1440}{800}{white}
\BX{999}{759}{1080}{796}{c0}\BX{1086}{759}{1167}{796}{c1}\BX{1173}{759}{1254}{796}{c2}\BX{1260}{759}{1341}{796}{c3}\BX{1347}{759}{1428}{796}{c4}
\fill[fill={rgb,255:red,252;green,203;blue,228}] ({1447*0.3pt},{-807*0.3pt}) rectangle ({1629*0.3pt},{-958*0.3pt});
\fill[fill={rgb,255:red,198;green,174;blue,200}] ({1447*0.3pt},{-958*0.3pt}) rectangle ({1629*0.3pt},{-1111*0.3pt});
\fill[fill={rgb,255:red,197;green,216;blue,139}] ({1447*0.3pt},{-1111*0.3pt}) rectangle ({1629*0.3pt},{-1264*0.3pt});
\fill[fill={rgb,255:red,203;green,141;blue,147}] ({1447*0.3pt},{-1264*0.3pt}) rectangle ({1629*0.3pt},{-1416*0.3pt});
\fill[fill={rgb,255:red,232;green,207;blue,198}] ({1447*0.3pt},{-1416*0.3pt}) rectangle ({1629*0.3pt},{-1571*0.3pt});
\fill[fill={rgb,255:red,214;green,162;blue,175}] ({753*0.3pt},{-2021*0.3pt}) rectangle ({2174*0.3pt},{-2245*0.3pt});
\fill[fill={rgb,255:red,140;green,176;blue,200}] ({753*0.3pt},{-2245*0.3pt}) rectangle ({2174*0.3pt},{-2473*0.3pt});
\CB{1644}{1684}{889}{1138}{yb0,yb1,yb2,yb3,yb4,yb5,yb6,yb7,yb8}{8}
\CB{2200}{2253}{2095}{2458}{rk0,rk1,rk2,rk3,rk4,rk5}{5}
\CB{1307}{1337}{2773.5}{2915}{jt0,jt1,jt2,jt3,jt4,jt5,jt6}{6}
\CB{478}{495}{786}{872}{mg0,mg1,mg2,mg3,mg4}{4}
\CB{67}{83}{1181}{1262}{mg0,mg1,mg2,mg3,mg4}{4}
\CB{484}{503}{1185}{1281}{mg0,mg1,mg2,mg3,mg4}{4}
\foreach \y in {898,957,1014,1072,1130}{\draw[white,line width=.4pt] ({1644*0.3pt},{-\y*0.3pt})--({1652*0.3pt},{-\y*0.3pt}) ({1676*0.3pt},{-\y*0.3pt})--({1684*0.3pt},{-\y*0.3pt});}
\foreach \y in {2104,2190,2276,2361,2446}{\draw[white,line width=.4pt] ({2200*0.3pt},{-\y*0.3pt})--({2210*0.3pt},{-\y*0.3pt}) ({2243*0.3pt},{-\y*0.3pt})--({2253*0.3pt},{-\y*0.3pt});}
\BX{1654}{1304}{1685}{1335}{c0}\BX{1654}{1339}{1685}{1370}{c1}\BX{1654}{1374}{1685}{1405}{c2}\BX{1654}{1409}{1685}{1439}{c3}\BX{1654}{1443}{1685}{1474}{c4}

% ---- page-wide axis: dendrograms and legend dots
\begin{axis}[pan={0}{0}{2363}{3632},hide axis,clip=false,xmin=0,xmax=2363,ymin=0,ymax=3632,y dir=reverse]
\DU{366}{700}{61}{66}{81}\DU{235}{496}{66}{73}{76}\DU{142}{379}{73}{85}{77}
\DU{115}{172}{85}{92}{88}\DU{103}{125}{92}{104}{104}\DU{150}{190}{88}{95}{95}\DU{145}{160}{95}{104}{104}\DU{180}{190}{95}{104}{104}
\DU{275}{379}{77}{81}{85}\DU{232}{335}{81}{88}{85}\DU{212}{250}{88}{95}{104}\DU{205}{225}{95}{104}{104}\DU{300}{345}{85}{92}{95}\DU{295}{320}{92}{104}{104}\DU{335}{355}{95}{104}{104}
\DU{365}{392}{82}{92}{104}\DU{368}{378}{92}{104}{104}
\DU{430}{560}{76}{92}{90}\DU{412}{470}{92}{100}{97}\DU{420}{440}{100}{104}{104}\DU{455}{510}{97}{100}{104}\DU{470}{500}{100}{104}{104}\DU{535}{572}{90}{95}{95}\DU{535}{550}{95}{104}{104}\DU{555}{570}{95}{104}{104}
\DU{640}{760}{81}{91}{89}\DU{610}{665}{91}{92}{93}\DU{597}{630}{92}{104}{104}\DU{640}{665}{93}{104}{104}\DU{715}{820}{89}{95}{92}\DU{690}{740}{95}{99}{104}\DU{700}{725}{99}{104}{104}\DU{765}{820}{92}{98}{98}\DU{770}{800}{98}{104}{104}\DU{810}{841}{95}{104}{104}
\DS{45}{326}{595}{50}{66}\DS{50}{222}{432}{58}{59}\DS{58}{148}{293}{70}{60}\DS{70}{128}{172}{78}{78}\DS{78}{118}{138}{84}{84}\DS{84}{113}{123}{90}{90}\DS{84}{133}{143}{90}{90}\DS{78}{158}{182}{85}{85}\DS{85}{153}{163}{90}{90}\DS{85}{176}{188}{90}{90}
\DS{60}{222}{305}{70}{70}\DS{70}{208}{240}{76}{78}\DS{76}{203}{214}{90}{90}\DS{78}{232}{248}{86}{86}\DS{86}{226}{238}{90}{90}\DS{86}{243}{252}{90}{90}\DS{70}{275}{320}{72}{68}\DS{72}{268}{290}{85}{85}\DS{85}{263}{275}{90}{90}\DS{85}{285}{296}{90}{90}\DS{68}{315}{340}{78}{78}\DS{78}{325}{345}{90}{90}
\DS{59}{380}{470}{76}{68}\DS{76}{375}{425}{80}{85}\DS{80}{365}{388}{90}{90}\DS{85}{400}{430}{88}{88}\DS{88}{410}{435}{90}{90}\DS{68}{465}{490}{75}{75}\DS{75}{460}{475}{90}{90}\DS{75}{485}{497}{90}{90}
\DS{66}{560}{640}{70}{75}\DS{70}{530}{580}{76}{82}\DS{76}{520}{540}{85}{80}\DS{85}{513}{527}{90}{90}\DS{80}{535}{545}{90}{90}\DS{82}{565}{590}{90}{90}\DS{75}{625}{690}{84}{78}\DS{84}{600}{640}{88}{88}\DS{88}{590}{610}{90}{90}\DS{88}{630}{650}{90}{90}\DS{78}{660}{700}{84}{84}\DS{84}{650}{670}{90}{90}\DS{84}{690}{708}{90}{90}
\addplot[only marks,mark=*,mark size=2.1pt,c0] coordinates {(76,783)};
\addplot[only marks,mark=*,mark size=2.1pt,c1] coordinates {(76,797.5)};
\addplot[only marks,mark=*,mark size=2.1pt,c2] coordinates {(76,813)};
\addplot[only marks,mark=*,mark size=2.1pt,c3] coordinates {(76,827)};
\addplot[only marks,mark=*,mark size=2.1pt,c4] coordinates {(76,843)};
\addplot[only marks,mark=*,mark size=0.9pt,black] coordinates {(1321,2991.6)};
\addplot[only marks,mark=*,mark size=2.1pt,black] coordinates {(1321,3019.6)};
\addplot[only marks,mark=*,mark size=2.7pt,black] coordinates {(1321,3048.5)};
\addplot[only marks,mark=*,mark size=3.3pt,black] coordinates {(1321,3077)};
\addplot[only marks,mark=*,mark size=3.6pt,black] coordinates {(1321,3105.5)};
\end{axis}

% ---- text
\LB{0}{24}{A}\LB{879}{22}{B}\LB{879}{378}{C}\LB{3}{738}{D}\LB{906}{802}{E}\LB{1868}{802}{F}\LB{1868}{1206}{G}\LB{2}{1602}{H}\LB{0}{1979}{I}\LB{0}{2607}{J}\LB{1373}{2607}{K}\LB{0}{3295}{L}
\node[font=\fz{106}\serifb\bfseries,inner sep=0pt] at ({2087*0.3pt},{-1607*0.3pt}) {I};
\node[font=\fz{52}\bfseries,inner sep=0pt] at ({320*0.3pt},{-219*0.3pt}) {M3};
\node[font=\fz{52}\bfseries,inner sep=0pt] at ({531*0.3pt},{-412*0.3pt}) {M2};
\node[font=\fz{52}\bfseries,inner sep=0pt] at ({789*0.3pt},{-593.5*0.3pt}) {M1};
\T{418}{750}{center}{15}{low}\T{521}{750}{center}{15}{high}
\T{1188}{59}{center}{21}{M1}\T{1649}{61}{center}{21}{M2}\T{2138}{60}{center}{21}{M3}
\TR{977}{76}{15.5}{AUCell}\TR{1445}{77}{15.5}{AUCell}\TR{1931}{77}{15.5}{AUCell}
\T{1031}{400}{west}{23}{C0 FHL2+}\T{1109}{443.5}{west}{23}{C2 CXCR4+}\T{1189}{606.6}{west}{23}{C3 RAMP1+}\T{1219.5}{648}{west}{23}{C1 SFRP2+}\T{1243}{697.5}{west}{23}{C4 TFF3+}
\T{1533}{398}{west}{23}{C1 SFRP2+}\T{1614}{567}{west}{23}{C3 RAMP1+}\T{1692}{664.5}{west}{23}{C4 TFF3+}\T{1737}{692.5}{west}{23}{C0 FHL2+}\T{1735}{720.5}{west}{23}{C2 CXCR4+}
\T{2033}{398}{west}{23}{C4 TFF3+}\T{2074}{574.6}{west}{23}{C2 CXCR4+}\T{2100}{676}{west}{23}{C3 RAMP1+}\T{2215.5}{695}{west}{23}{C1 SFRP2+}\T{2252}{718.5}{west}{23}{C0 FHL2+}
\node[font=\fz{36}\bfseries,inner sep=0pt] at ({1323*0.3pt},{-404*0.3pt}) {M1};
\node[font=\fz{36}\bfseries,inner sep=0pt] at ({1828*0.3pt},{-404*0.3pt}) {M2};
\node[font=\fz{36}\bfseries,inner sep=0pt] at ({2317*0.3pt},{-405*0.3pt}) {M3};
\TR{956}{556}{16}{Regulon activity score}\TR{1466}{556}{16}{Regulon activity score}\TR{1960}{556}{16}{Regulon activity score}
\T{1688}{756}{center}{15.5}{Cell type}\T{2184}{756}{center}{15.5}{Cell type}
% D
\T{86}{783}{west}{20}{C0}\T{86}{797.5}{west}{20}{C1}\T{86}{813}{west}{20}{C2}\T{86}{827}{west}{20}{C3}\T{86}{843}{west}{20}{C4}
\node[font=\fz{36}\bfseries,inner sep=0pt] at ({667*0.3pt},{-797.5*0.3pt}) {M1};
\node[font=\fz{36}\bfseries,inner sep=0pt] at ({242*0.3pt},{-1203*0.3pt}) {M2};
\node[font=\fz{36}\bfseries,inner sep=0pt] at ({670.5*0.3pt},{-1195*0.3pt}) {M3};
\T{503}{794}{west}{12}{0.125}\T{503}{813}{west}{12}{0.100}\T{503}{831.5}{west}{12}{0.075}\T{503}{850}{west}{12}{0.050}\T{503}{869}{west}{12}{0.025}
\T{90}{1190}{west}{12}{0.100}\T{90}{1211}{west}{12}{0.075}\T{90}{1232}{west}{12}{0.050}\T{90}{1253}{west}{12}{0.025}
\T{511}{1202}{west}{14}{0.04}\T{511}{1227}{west}{14}{0.03}\T{511}{1251.5}{west}{14}{0.02}\T{511}{1276}{west}{14}{0.01}
% E
\TR{957}{1189}{38}{Top 5 TFs}
\foreach \n [count=\i from 0] in {GATA4,MEF2C,FOSL2,SOX4,FOSL1,HLX,NR2F1,RARG,PBX1,NR3C1,RUNX3,IKZF3,IKZF1,SPI1,IRF5,HOXA13,MAZ,ETS2,TEAD1,CREB3,TAL1,LTF,SMAD1,ERG,FLI1}{\node[anchor=west,inner sep=0pt,font=\fz{34}\itshape] at ({1450*0.3pt},{-(824+\i*30.44)*0.3pt}) {\n};}
\node[anchor=west,inner sep=0pt,font=\fz{30}\bfseries] at ({1641*0.3pt},{-865*0.3pt}) {expression};
\T{1690}{898}{west}{29}{0.8}\T{1690}{957}{west}{29}{0.6}\T{1690}{1014}{west}{29}{0.4}\T{1690}{1072}{west}{29}{0.2}\T{1690}{1130}{west}{29}{0}
\node[anchor=west,inner sep=0pt,font=\fz{28}\bfseries] at ({1652*0.3pt},{-1275*0.3pt}) {cell};
\T{1696}{1319}{west}{28}{C0}\T{1696}{1354}{west}{28}{C1}\T{1696}{1389}{west}{28}{C2}\T{1696}{1424}{west}{28}{C3}\T{1696}{1458}{west}{28}{C4}
% F, G
\definecolor{rd}{HTML}{D7263D}
\node[anchor=west,inner sep=0pt,text=rd,font=\fz{19.5}] at ({1988*0.3pt},{-818*0.3pt}) {RUNX3};
\node[anchor=west,inner sep=0pt,text=rd,font=\fz{19.5}] at ({1997*0.3pt},{-854*0.3pt}) {IKZF3};
\node[anchor=west,inner sep=0pt,text=rd,font=\fz{19.5}] at ({2005*0.3pt},{-895*0.3pt}) {IKZF1};
\node[anchor=west,inner sep=0pt,text=rd,font=\fz{19.5}] at ({2012*0.3pt},{-920*0.3pt}) {SPI1};
\node[anchor=west,inner sep=0pt,text=rd,font=\fz{19.5}] at ({2019*0.3pt},{-949*0.3pt}) {IRF5};
\T{2087}{818}{west}{25.5}{C2 CXCR4+ Fibroblasts}
\TR{1927}{971}{15.5}{Specificity score}\T{2161}{1165}{center}{16}{Regulons}
\T{2016}{1227}{west}{13.5}{RUNX3}\T{1976}{1239}{west}{13.5}{TAL1}\T{2017}{1246.5}{west}{13.5}{ELF1}\T{1976}{1268.5}{west}{13.5}{IKZF1}\T{2022.5}{1268.5}{west}{13.5}{SMAD1}
\T{2166}{1199}{center}{16}{G2M}\TR{1927}{1385}{15.5}{Specificity score}\T{2167}{1580.6}{center}{16}{Regulons}
% H
\node[font=\fz{18}\bfseries,inner sep=0pt] at ({240*0.3pt},{-1667*0.3pt}) {RUNX3(+)};
\node[font=\fz{18}\bfseries,inner sep=0pt] at ({648*0.3pt},{-1667*0.3pt}) {IKZF3(+)};
\node[font=\fz{18}\bfseries,inner sep=0pt] at ({1055*0.3pt},{-1667*0.3pt}) {IKZF1(+)};
\node[font=\fz{18}\bfseries,inner sep=0pt] at ({1469*0.3pt},{-1667*0.3pt}) {SPI1(+)};
\node[font=\fz{18}\bfseries,inner sep=0pt] at ({1882*0.3pt},{-1667*0.3pt}) {IRF5(+)};
\node[font=\fz{18}\bfseries,inner sep=0pt] at ({2245*0.3pt},{-1658*0.3pt}) {RUNX3(+)};
\TR{66}{1762}{14}{Expression level}\TR{470}{1765}{14}{Expression level}\TR{882}{1763}{14}{Expression level}\TR{1293}{1757}{14}{Expression level}\TR{1709}{1760}{14}{Expression level}\TR{2147}{1757}{14}{Expression level}
% I
\T{753}{1971}{west}{58.5}{Top 10 Metabolism−Related Pathway}
\foreach \n [count=\i from 0] in {Oxidative phosphorylation,Glutathione metabolism,Glycolysis / Gluconeogenesis,Pyruvate metabolism,Cysteine and methionine metabolism,Metabolism of xenobiotics by cytochrome P450,Drug metabolism − cytochrome P450,Glyoxylate and dicarboxylate metabolism,Glycosaminoglycan degradation,Drug metabolism − other enzymes}{\node[anchor=base west,inner sep=0pt,font=\fz{54.3}\itshape] at ({757*0.3pt},{-(2061+\i*45)*0.3pt}) {\n};}
\node[anchor=west,inner sep=0pt,font=\fz{42}\bfseries] at ({2200*0.3pt},{-2054*0.3pt}) {AUCell};
\T{2265}{2104}{west}{43}{0.2}\T{2265}{2190}{west}{43}{0.15}\T{2265}{2276}{west}{43}{0.1}\T{2265}{2361}{west}{43}{0.05}\T{2265}{2446}{west}{43}{0}
\node[rotate=70,font=\fz{53},inner sep=0pt] at ({158*0.3pt},{-2517*0.3pt}) {C0};
\node[rotate=70,font=\fz{53},inner sep=0pt] at ({264*0.3pt},{-2517*0.3pt}) {C1};
\node[rotate=70,font=\fz{53},inner sep=0pt] at ({389*0.3pt},{-2517*0.3pt}) {C2};
\node[rotate=70,font=\fz{53},inner sep=0pt] at ({509*0.3pt},{-2517*0.3pt}) {C3};
\node[rotate=70,font=\fz{53},inner sep=0pt] at ({666*0.3pt},{-2517*0.3pt}) {C4};
% J
\TR{58}{2978}{25}{Metabolic Pathway}
\T{1330}{2756.5}{center}{18}{Value}\T{1330}{2960}{center}{18}{Value}
% K
\T{1729}{2596}{center}{17}{Oxidative phosphorylation}\T{2067}{2596}{center}{17}{Glutathione metabolism}\T{1583}{2962}{center}{17}{Glycolysis / Gluconeogenesi}\T{1902.5}{2962}{center}{17}{Pyruvate metabolism}\T{2207}{2962}{center}{16}{Cysteine and methionine metabolism}
\TR{1586}{2717}{14}{AUCell}\TR{1938}{2709}{14}{AUCell}\TR{1454}{3079}{14}{AUCell}\TR{1762}{3074}{14}{AUCell}\TR{2081}{3065}{14}{AUCell}
% L
\T{309}{3375}{center}{29}{Oxidative phosphorylation}\T{770}{3377}{center}{29}{Glutathione metabolism}\T{1228}{3375}{center}{29}{Glycolysis / Gluconeogenesis}\T{1691}{3379}{center}{28}{Pyruvate metabolism}\T{2132}{3372}{center}{23}{Cysteine and methionine metabolism}
\TR{108}{3447}{14}{AUCell}\TR{571}{3438}{14}{AUCell}\TR{1028}{3438}{14}{AUCell}\TR{1480}{3438}{14}{AUCell}\TR{1921}{3438}{14}{AUCell}
\end{tikzpicture}
\end{document}
